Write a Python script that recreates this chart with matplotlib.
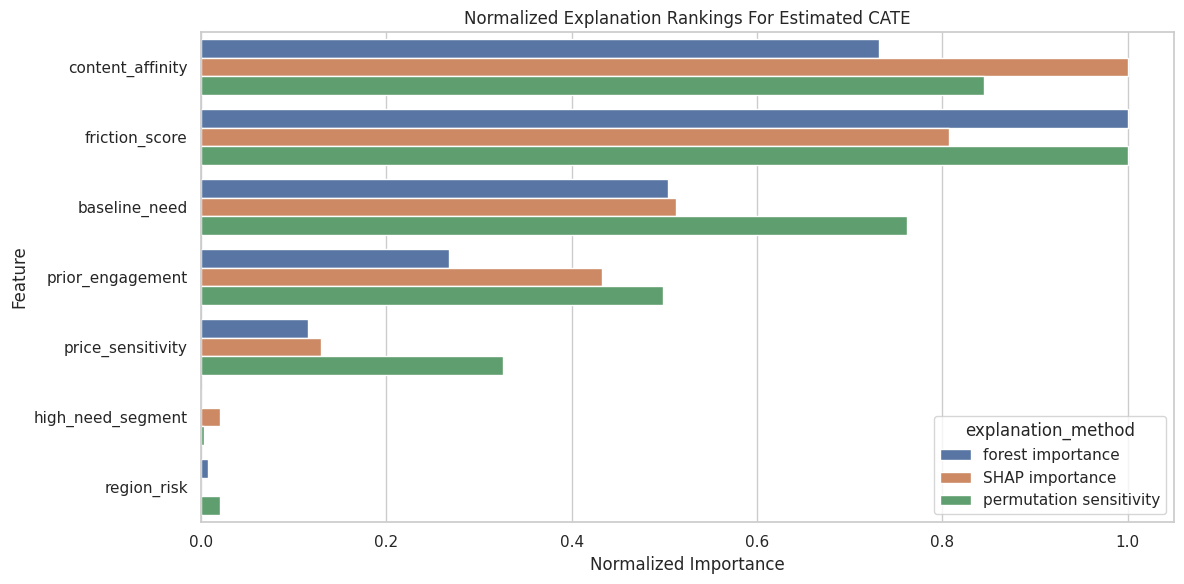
import matplotlib
matplotlib.use("Agg")
import matplotlib.pyplot as plt
import seaborn as sns
import pandas as pd

features = ["content_affinity", "friction_score", "baseline_need", "prior_engagement",
            "price_sensitivity", "high_need_segment", "region_risk"]
methods = ["forest importance", "SHAP importance", "permutation sensitivity"]
forest = [0.732, 1.0, 0.504, 0.268, 0.115, 0.0, 0.0075]
shap = [1.0, 0.807, 0.513, 0.433, 0.130, 0.020, 0.0]
perm = [0.845, 1.0, 0.762, 0.499, 0.326, 0.003, 0.021]

rows = []
for vals, m in zip([forest, shap, perm], methods):
    for f, v in zip(features, vals):
        rows.append({"feature": f, "explanation_method": m, "normalized_importance": v})
df = pd.DataFrame(rows)

sns.set_theme(style="whitegrid")
fig, ax = plt.subplots(figsize=(11.84, 5.84), dpi=100)
sns.barplot(data=df, y="feature", x="normalized_importance", hue="explanation_method",
            order=features, hue_order=methods, orient="h", ax=ax)
ax.set_title("Normalized Explanation Rankings For Estimated CATE")
ax.set_xlabel("Normalized Importance")
ax.set_ylabel("Feature")
sns.move_legend(ax, "lower right", title="explanation_method")
fig.subplots_adjust(left=201 / 1184, right=1174 / 1184, top=1 - 32 / 584, bottom=1 - 522 / 584)
fig.savefig("out.png", dpi=100)
